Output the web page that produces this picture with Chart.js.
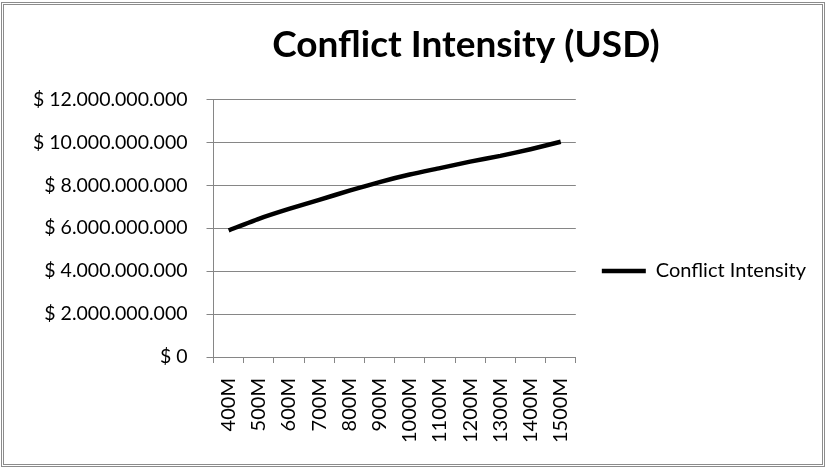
<!DOCTYPE html>
<html>
<head>
<meta charset="utf-8">
<script src="https://cdn.jsdelivr.net/npm/chart.js@4"></script>
<style>
  body { margin: 0; background: #fff; }
  #wrap { position: relative; width: 825px; height: 467px; }
  #frame { position: absolute; left: 1px; top: 2px; width: 818px; height: 459px;
           border: 3px double #8c8c8c; pointer-events: none; }
</style>
</head>
<body>
<div id="wrap">
  <canvas id="chart" width="825" height="467"></canvas>
  <div id="frame"></div>
</div>
<script>
// chart data
const categories = ['400M', '500M', '600M', '700M', '800M', '900M', '1000M', '1100M', '1200M', '1300M', '1400M', '1500M'];
const intensity = [5.9e9, 6.44e9, 6.9e9, 7.32e9, 7.75e9, 8.15e9, 8.5e9, 8.8e9, 9.1e9, 9.37e9, 9.68e9, 10.03e9];
const seriesName = 'Conflict Intensity';
const titleText = 'Conflict Intensity (USD)';

const fontFam = 'Lato, "Open Sans", sans-serif';

// money in dots, like the excel sheet
function money(v) {
    if (v == 0) return '$ 0';
    return '$ ' + Math.round(v).toString().replace(/\B(?=(\d{3})+(?!\d))/g, '.');
}

// shove title and legend where excel had them
const nudge = {
    id: 'nudge',
    afterLayout(chart) {
        const t = chart.titleBlock;
        if (t) {
            const d = 466 - (t.left + t.right) / 2;
            t.left += d; t.right += d;
        }
        const l = chart.legend;
        if (l) {
            const d = 271 - (l.top + l.bottom) / 2;
            l.top += d; l.bottom += d;
            l.left -= 4; l.right -= 4;
        }
    }
};

new Chart(document.getElementById('chart'), {
    type: 'line',
    data: {
        labels: categories,
        datasets: [{
            label: seriesName,
            data: intensity,
            borderColor: '#000',
            backgroundColor: '#000',
            borderWidth: 4.5,
            pointRadius: 0,
            tension: 0.2,
            fill: false
        }]
    },
    options: {
        responsive: false,
        animation: false,
        layout: { padding: { left: 14, right: 5, top: 0, bottom: 9 } },
        plugins: {
            title: {
                display: true,
                text: titleText,
                color: '#000',
                font: { family: fontFam, size: 37, weight: 'bold' },
                padding: { top: 23, bottom: 32 }
            },
            legend: {
                position: 'right',
                maxWidth: 300,
                labels: {
                    color: '#000',
                    font: { family: fontFam, size: 20 },
                    usePointStyle: true,
                    pointStyle: 'line',
                    pointStyleWidth: 44,
                    padding: 30
                }
            },
            tooltip: { enabled: false }
        },
        scales: {
            x: {
                offset: true,
                grid: { display: true, drawOnChartArea: false, offset: true, tickLength: 6, color: '#868686' },
                border: { color: '#868686', width: 1 },
                ticks: { color: '#000', font: { family: fontFam, size: 20 }, minRotation: 90, maxRotation: 90, padding: 15, autoSkip: false }
            },
            y: {
                min: 0,
                max: 12e9,
                grid: { color: '#868686', tickLength: 7 },
                border: { color: '#868686', width: 1 },
                ticks: { stepSize: 2e9, color: '#000', font: { family: fontFam, size: 19.5 }, padding: 19, callback: money }
            }
        }
    },
    plugins: [nudge]
});
</script>
</body>
</html>
